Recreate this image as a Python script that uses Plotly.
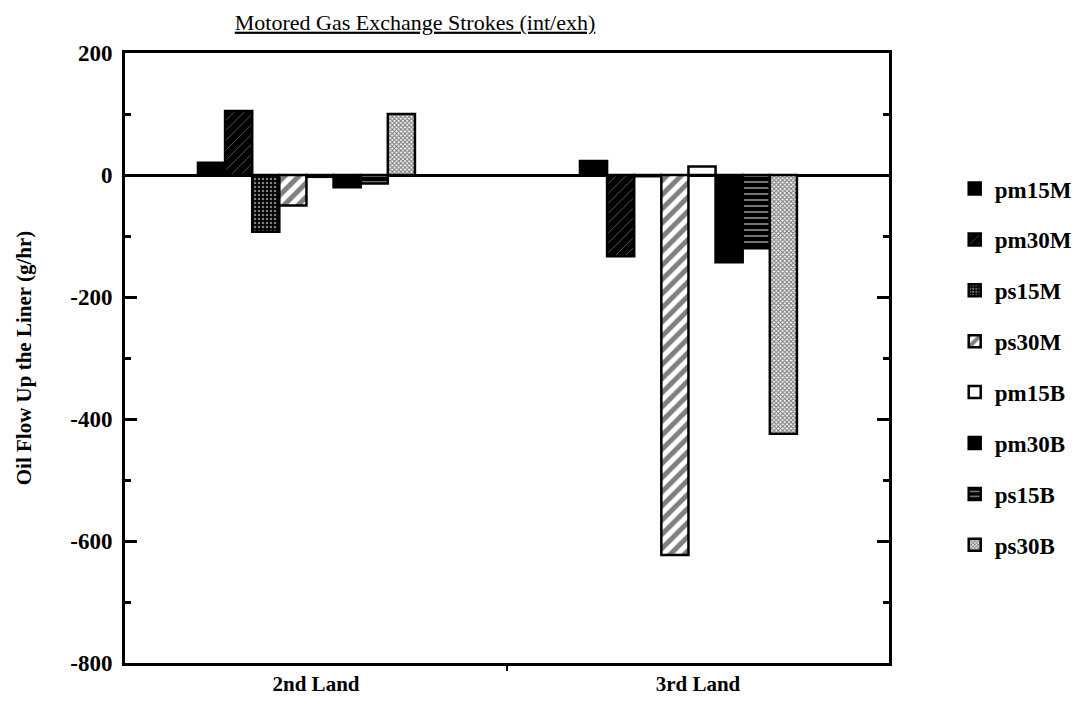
import numpy as np
import plotly.graph_objects as go

categories = ["2nd Land", "3rd Land"]
series = ["pm15M", "pm30M", "ps15M", "ps30M", "pm15B", "pm30B", "ps15B", "ps30B"]

pm15M = [20, 23]
pm30M = [105, -133]
ps15M = [-93, -2]
ps30M = [-50, -623]
pm15B = [-3, 14]
pm30B = [-20, -143]
ps15B = [-14, -120]
ps30B = [100, -424]

values = [pm15M, pm30M, ps15M, ps30M, pm15B, pm30B, ps15B, ps30B]

y_tickvals = [200, 0, -200, -400, -600, -800]
y_ticktext = ["200", "0", "-200", "-400", "-600", "-800"]

FONT = "Liberation Serif, Times New Roman, serif"

styles = {
    "pm15M": dict(color="black"),
    "pm30M": dict(color="black", pattern=dict(shape="/", fgcolor="white", bgcolor="black", size=7, solidity=0.1, fillmode="overlay")),
    "ps15M": dict(color="black", pattern=dict(shape=".", fgcolor="white", bgcolor="black", size=4, solidity=0.3, fillmode="overlay")),
    "ps30M": dict(color="white", pattern=dict(shape="/", fgcolor="black", bgcolor="white", size=10, solidity=0.5, fillmode="overlay")),
    "pm15B": dict(color="white"),
    "pm30B": dict(color="black"),
    "ps15B": dict(color="black", pattern=dict(shape="-", fgcolor="white", bgcolor="black", size=6, solidity=0.3, fillmode="overlay")),
    "ps30B": dict(color="white", pattern=dict(shape="x", fgcolor="black", bgcolor="white", size=3, solidity=0.6, fillmode="overlay")),
}

x_pos = np.arange(len(categories)) - 0.025

W, H = 1072, 692  # page body adds an 8px margin

fig = go.Figure()
for name, vals in zip(series, values):
    st = styles[name]
    marker = dict(color=st["color"], line=dict(color="black", width=2.5))
    if "pattern" in st:
        marker["pattern"] = st["pattern"]
    fig.add_trace(go.Bar(x=x_pos, y=vals, name=name, marker=marker, legendgroup=name))

fig.update_layout(
    width=W, height=H,
    margin=dict(l=117, r=191, t=45, b=37, autoexpand=False),
    paper_bgcolor="white", plot_bgcolor="white",
    barmode="group", bargap=0.432, bargroupgap=0,
    font=dict(family=FONT, size=20, color="black"),
    title=dict(text="<u>Motored Gas Exchange Strokes (int/exh)</u>", x=407/W, xanchor="center",
               y=1 - 14/H, yanchor="middle", font=dict(family=FONT, size=22, color="black")),
    legend=dict(x=1.086, y=0.813, xanchor="left", yanchor="top", tracegroupgap=18,
                font=dict(family=FONT, size=23, color="black", weight="bold"),
                bgcolor="rgba(0,0,0,0)"),
    showlegend=True,
)

fig.update_xaxes(
    range=[-0.5, 1.5], tickmode="array", tickvals=list(np.arange(len(categories))), ticktext=categories,
    ticks="", showline=True, linecolor="black", linewidth=3, mirror=True, showgrid=False, zeroline=False,
    automargin=False,
    tickfont=dict(family=FONT, size=21, weight="bold"),
    minor=dict(tickmode="array", tickvals=[0.5], ticks="outside", ticklen=5, tickwidth=2, tickcolor="black"),
)
fig.update_yaxes(
    range=[-800, 200], tickmode="array", tickvals=y_tickvals, ticktext=y_ticktext,
    ticks="inside", ticklen=12, tickwidth=3, tickcolor="black", ticklabelstandoff=5,
    showline=True, linecolor="black", linewidth=3, mirror="allticks", showgrid=False,
    zeroline=True, zerolinecolor="black", zerolinewidth=3, automargin=False,
    minor=dict(tickmode="linear", tick0=0, dtick=100, ticks="inside", ticklen=6, tickwidth=3, tickcolor="black"),
    tickfont=dict(family=FONT, size=23, weight="bold"),
    title=dict(text="Oil Flow Up the Liner (g/hr)", font=dict(family=FONT, size=21, weight="bold"), standoff=33),
)

fig.write_html("out.html")
